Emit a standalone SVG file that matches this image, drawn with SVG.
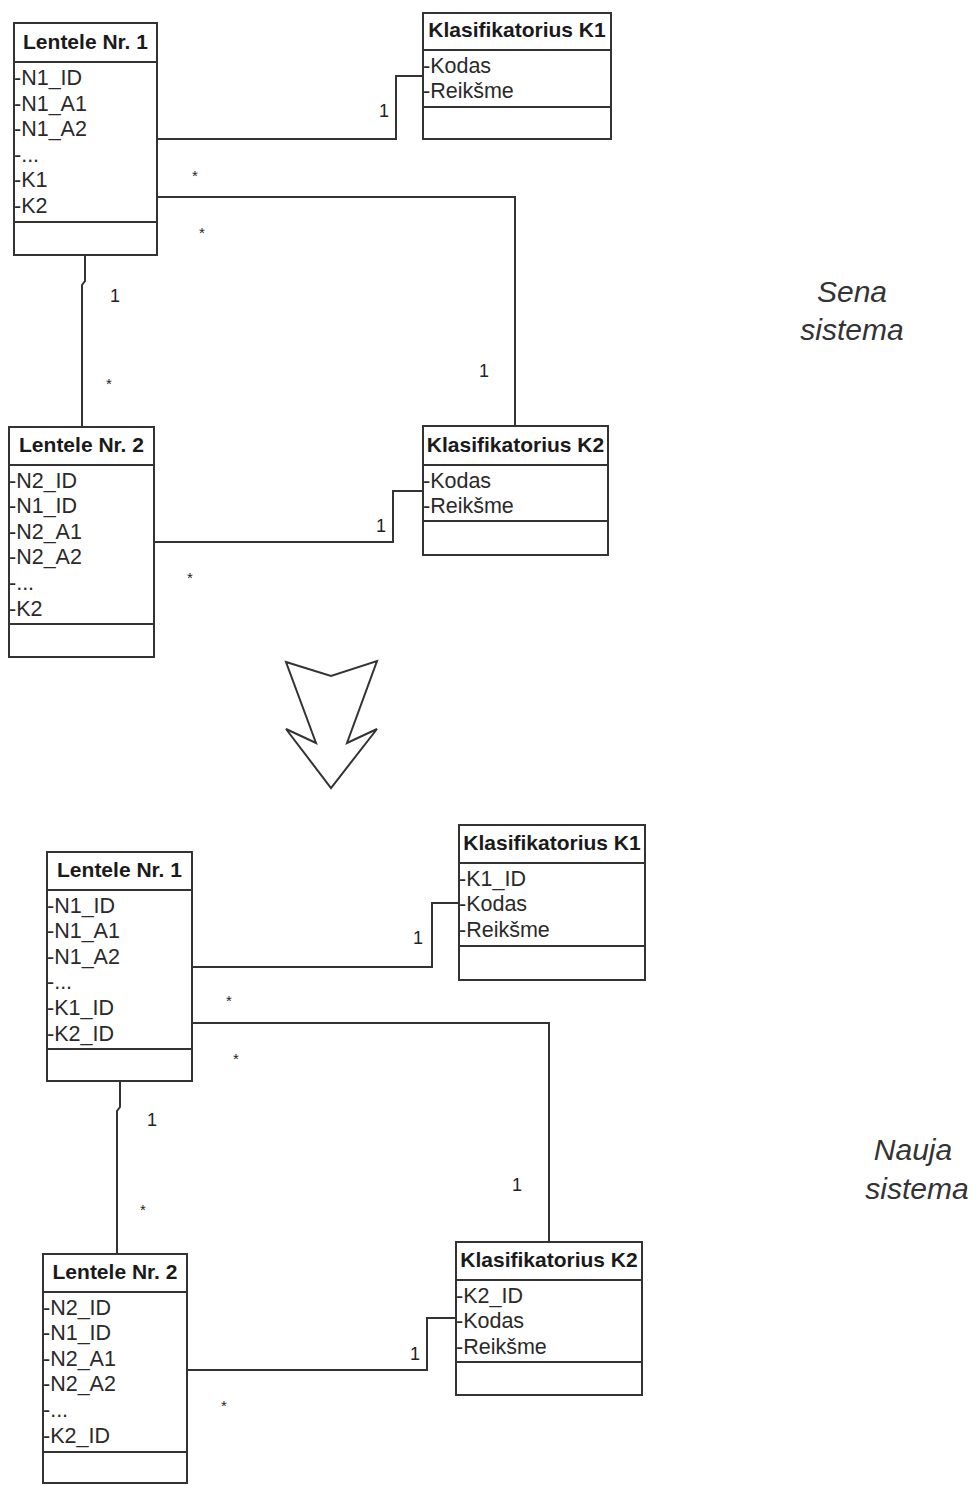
<svg xmlns="http://www.w3.org/2000/svg" width="976" height="1485" viewBox="0 0 976 1485">
<style>
.box{fill:#fff;stroke:#333;stroke-width:2}
.ln{stroke:#333;stroke-width:2}
.hd{font-family:"Liberation Sans",Arial,sans-serif;font-weight:bold;font-size:21px;fill:#1a1a1a;text-anchor:middle}
.at{font-family:"Liberation Sans",Arial,sans-serif;font-size:21.5px;fill:#2a2a2a}
.con{fill:none;stroke:#333;stroke-width:2}
.lb{font-family:"Liberation Sans",Arial,sans-serif;font-size:18px;fill:#222;text-anchor:middle}
.st{font-family:"Liberation Sans",Arial,sans-serif;font-size:15px;fill:#222;text-anchor:middle}
.ttl{font-family:"Liberation Sans",Arial,sans-serif;font-style:italic;font-size:30px;fill:#333;text-anchor:middle}
</style>
<rect width="976" height="1485" fill="#fff"/>

<g id="connectors">
<path class="con" d="M157,139 H396 V76 H423"/>
<path class="con" d="M157,197 H515 V426"/>
<path class="con" d="M85,255 V281 L82,285 V427"/>
<path class="con" d="M154,542 H393 V491 H423"/>
<path class="con" d="M192,967 H432 V903 H459"/>
<path class="con" d="M192,1023 H549 V1242"/>
<path class="con" d="M120,1081 V1107 L117,1111 V1254"/>
<path class="con" d="M187,1370 H427 V1318 H456"/>
</g>

<g id="labels">
<text class="st" x="195" y="181">*</text>
<text class="st" x="202" y="238">*</text>
<text class="lb" x="384" y="117">1</text>
<text class="lb" x="484" y="377">1</text>
<text class="lb" x="115" y="302">1</text>
<text class="st" x="109" y="389">*</text>
<text class="lb" x="381" y="532">1</text>
<text class="st" x="190" y="583">*</text>
<text class="st" x="229" y="1006">*</text>
<text class="st" x="236" y="1064">*</text>
<text class="lb" x="418" y="944">1</text>
<text class="lb" x="517" y="1191">1</text>
<text class="lb" x="152" y="1126">1</text>
<text class="st" x="143" y="1215">*</text>
<text class="lb" x="415" y="1360">1</text>
<text class="st" x="224" y="1411">*</text>
</g>

<g id="old-lentele1">
<rect class="box" x="14" y="23" width="143" height="232"/>
<line class="ln" x1="14" y1="62" x2="157" y2="62"/>
<line class="ln" x1="14" y1="222" x2="157" y2="222"/>
<text class="hd" x="85.5" y="49">Lentele Nr. 1</text>
<text class="at" x="14" y="85">-N1_ID</text>
<text class="at" x="14" y="110.6">-N1_A1</text>
<text class="at" x="14" y="136.2">-N1_A2</text>
<text class="at" x="14" y="161.8">-...</text>
<text class="at" x="14" y="187.4">-K1</text>
<text class="at" x="14" y="213">-K2</text>
</g>

<g id="old-k1">
<rect class="box" x="423" y="13" width="188" height="126"/>
<line class="ln" x1="423" y1="50" x2="611" y2="50"/>
<line class="ln" x1="423" y1="107" x2="611" y2="107"/>
<text class="hd" x="517" y="37">Klasifikatorius K1</text>
<text class="at" x="423" y="72.5">-Kodas</text>
<text class="at" x="423" y="98">-Reikšme</text>
</g>

<g id="old-lentele2">
<rect class="box" x="9" y="427" width="145" height="230"/>
<line class="ln" x1="9" y1="465" x2="154" y2="465"/>
<line class="ln" x1="9" y1="624" x2="154" y2="624"/>
<text class="hd" x="81.5" y="452">Lentele Nr. 2</text>
<text class="at" x="9" y="487.5">-N2_ID</text>
<text class="at" x="9" y="513.1">-N1_ID</text>
<text class="at" x="9" y="538.7">-N2_A1</text>
<text class="at" x="9" y="564.3">-N2_A2</text>
<text class="at" x="9" y="589.9">-...</text>
<text class="at" x="9" y="615.5">-K2</text>
</g>

<g id="old-k2">
<rect class="box" x="423" y="426" width="185" height="129"/>
<line class="ln" x1="423" y1="465" x2="608" y2="465"/>
<line class="ln" x1="423" y1="521" x2="608" y2="521"/>
<text class="hd" x="515.5" y="452">Klasifikatorius K2</text>
<text class="at" x="423" y="487.5">-Kodas</text>
<text class="at" x="423" y="513">-Reikšme</text>
</g>

<g id="arrow">
<polygon points="286,662 331,676 377,661 347,743 377,729 331,788 286,729 316,743" fill="#fff" stroke="#333" stroke-width="2" stroke-linejoin="miter"/>
</g>

<g id="new-lentele1">
<rect class="box" x="47" y="852" width="145" height="229"/>
<line class="ln" x1="47" y1="890" x2="192" y2="890"/>
<line class="ln" x1="47" y1="1049" x2="192" y2="1049"/>
<text class="hd" x="119.5" y="877">Lentele Nr. 1</text>
<text class="at" x="47" y="912.5">-N1_ID</text>
<text class="at" x="47" y="938.1">-N1_A1</text>
<text class="at" x="47" y="963.7">-N1_A2</text>
<text class="at" x="47" y="989.3">-...</text>
<text class="at" x="47" y="1014.9">-K1_ID</text>
<text class="at" x="47" y="1040.5">-K2_ID</text>
</g>

<g id="new-k1">
<rect class="box" x="459" y="825" width="186" height="155"/>
<line class="ln" x1="459" y1="863" x2="645" y2="863"/>
<line class="ln" x1="459" y1="946" x2="645" y2="946"/>
<text class="hd" x="552" y="850">Klasifikatorius K1</text>
<text class="at" x="459" y="885.5">-K1_ID</text>
<text class="at" x="459" y="911">-Kodas</text>
<text class="at" x="459" y="936.5">-Reikšme</text>
</g>

<g id="new-lentele2">
<rect class="box" x="43" y="1254" width="144" height="229"/>
<line class="ln" x1="43" y1="1292" x2="187" y2="1292"/>
<line class="ln" x1="43" y1="1452" x2="187" y2="1452"/>
<text class="hd" x="115" y="1279">Lentele Nr. 2</text>
<text class="at" x="43" y="1314.5">-N2_ID</text>
<text class="at" x="43" y="1340.1">-N1_ID</text>
<text class="at" x="43" y="1365.7">-N2_A1</text>
<text class="at" x="43" y="1391.3">-N2_A2</text>
<text class="at" x="43" y="1416.9">-...</text>
<text class="at" x="43" y="1442.5">-K2_ID</text>
</g>

<g id="new-k2">
<rect class="box" x="456" y="1242" width="186" height="153"/>
<line class="ln" x1="456" y1="1280" x2="642" y2="1280"/>
<line class="ln" x1="456" y1="1362" x2="642" y2="1362"/>
<text class="hd" x="549" y="1267">Klasifikatorius K2</text>
<text class="at" x="456" y="1302.5">-K2_ID</text>
<text class="at" x="456" y="1328">-Kodas</text>
<text class="at" x="456" y="1353.5">-Reikšme</text>
</g>

<g id="titles">
<text class="ttl" x="852" y="302">Sena</text>
<text class="ttl" x="852" y="340">sistema</text>
<text class="ttl" x="913" y="1160">Nauja</text>
<text class="ttl" x="917" y="1199">sistema</text>
</g>
</svg>
